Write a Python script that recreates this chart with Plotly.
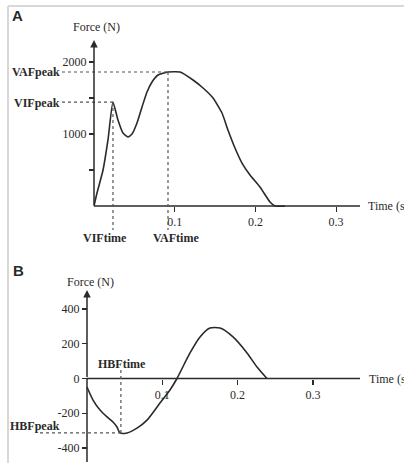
import plotly.graph_objects as go

# ---------------- data ----------------
A_TIME = [0, 0.0037, 0.0112, 0.0173, 0.0235, 0.0297, 0.0359, 0.0421, 0.0471,
          0.0533, 0.0595, 0.0657, 0.0719, 0.0793, 0.0917, 0.1066, 0.1227,
          0.1351, 0.1475, 0.1586, 0.1660, 0.1747, 0.1834, 0.1933, 0.2057,
          0.2181, 0.2243, 0.2367]
A_FORCE = [0, 180, 500, 917, 1444, 1194, 1014, 958, 1000,
           1153, 1375, 1583, 1722, 1819, 1861, 1861, 1750,
           1639, 1500, 1292, 1056, 806, 597, 431, 264,
           56, 0, 0]
A_XTICKS = [0.1, 0.2, 0.3]
A_YTICKS = [500, 1000, 1500, 2000]
A_YTICKTEXT = ["", "1000", "", "2000"]
VIF_TIME, VIF_PEAK = 0.0235, 1444
VAF_TIME, VAF_PEAK = 0.0917, 1861

B_TIME = [0, 0.008, 0.0173, 0.0266, 0.0345, 0.0398, 0.0438, 0.0531, 0.0664,
          0.0797, 0.0969, 0.1102, 0.1195, 0.1368, 0.1501, 0.1633, 0.1766,
          0.1939, 0.2125, 0.2258, 0.2390]
B_FORCE = [-49, -124, -181, -221, -250, -279, -313, -313, -285,
           -239, -141, -66, 0, 147, 239, 290, 290,
           239, 147, 66, 0]
B_XTICKS = [0.1, 0.2, 0.3]
B_YTICKS = [-400, -200, 0, 200, 400]
HBF_TIME, HBF_PEAK = 0.045, -313

# ---------------- geometry (pixels) ----------------
W, H = 404, 463
SPLIT = 250  # pixel row dividing panels
A_OX, A_OY, A_SX, A_SY = 94, 206, 807.0, 0.072   # px/s, px/N
B_OX, B_OY, B_SX, B_SY = 87, 378.5, 753.0, 1 / 5.75

def ax_range(ox, sx):
    return [(0 - ox) / sx, (W - ox) / sx]

def ay_range(oy, sy, ptop, pbot):
    return [(oy - pbot) / sy, (oy - ptop) / sy]

A_XR = ax_range(A_OX, A_SX)
A_YR = ay_range(A_OY, A_SY, 0, SPLIT)
B_XR = ax_range(B_OX, B_SX)
B_YR = ay_range(B_OY, B_SY, SPLIT, H)

def px_t(p, ox, sx):
    return (p - ox) / sx

def px_f(p, oy, sy):
    return (oy - p) / sy

INK = "#2a2a2a"
SERIF = "Liberation Serif"
tickfont = dict(family=SERIF, size=12, color=INK)

fig = go.Figure()
fig.add_trace(go.Scatter(x=A_TIME, y=A_FORCE, mode="lines", xaxis="x", yaxis="y",
                         line=dict(color=INK, width=1.6, shape="spline", smoothing=0.5),
                         showlegend=False, hoverinfo="skip"))
fig.add_trace(go.Scatter(x=B_TIME, y=B_FORCE, mode="lines", xaxis="x2", yaxis="y2",
                         line=dict(color=INK, width=1.6, shape="spline", smoothing=0.7),
                         showlegend=False, hoverinfo="skip"))

common = dict(showgrid=False, zeroline=False, showline=False, ticks="outside",
              ticklen=5, tickwidth=1.2, tickcolor=INK, tickfont=tickfont,
              fixedrange=True)

fig.update_layout(
    width=W, height=H, margin=dict(l=0, r=0, t=0, b=0),
    paper_bgcolor="white", plot_bgcolor="white",
    xaxis=dict(domain=[0, 1], range=A_XR, anchor="free",
               position=(H - A_OY) / H, tickvals=A_XTICKS,
               ticktext=[str(v) for v in A_XTICKS], **common),
    yaxis=dict(domain=[(H - SPLIT) / H, 1], range=A_YR, anchor="free",
               position=A_OX / W, tickvals=A_YTICKS, ticktext=A_YTICKTEXT, **common),
    xaxis2=dict(domain=[0, 1], range=B_XR, anchor="free",
                position=(H - B_OY) / H, tickvals=B_XTICKS,
                ticktext=[str(v) for v in B_XTICKS], **common),
    yaxis2=dict(domain=[0, (H - SPLIT) / H], range=B_YR, anchor="free",
                position=B_OX / W, tickvals=B_YTICKS,
                ticktext=[str(v) for v in B_YTICKS], **common),
)

shapes = []
def line(xref, yref, x0, y0, x1, y1, dash="solid", width=1.5, color=INK):
    shapes.append(dict(type="line", xref=xref, yref=yref, x0=x0, y0=y0, x1=x1, y1=y1,
                       line=dict(color=color, width=width, dash=dash)))

# axis lines
A_XEND = px_t(360, A_OX, A_SX)
A_YTOP = px_f(40, A_OY, A_SY)
B_XEND = px_t(360, B_OX, B_SX)
B_YTOP = px_f(290, B_OY, B_SY)
B_YBOT = px_f(462, B_OY, B_SY)
line("x", "y", 0, 0, A_XEND, 0)
line("x2", "y2", 0, 0, B_XEND, 0)
line("x2", "y2", 0, B_YBOT, 0, 0)

# dotted guides A
A_LBL_T = px_t(62, A_OX, A_SX)
A_LOW = px_f(230, A_OY, A_SY)
GUIDE = "#555"
line("x", "y", A_LBL_T, VAF_PEAK, VAF_TIME, VAF_PEAK, dash="dot", width=1.2, color=GUIDE)
line("x", "y", A_LBL_T, VIF_PEAK, VIF_TIME, VIF_PEAK, dash="dot", width=1.2, color=GUIDE)
line("x", "y", VIF_TIME, VIF_PEAK, VIF_TIME, A_LOW, dash="dot", width=1.2, color=GUIDE)
line("x", "y", VAF_TIME, VAF_PEAK, VAF_TIME, A_LOW, dash="dot", width=1.2, color=GUIDE)
# dotted guides B
B_LBL_T = px_t(40, B_OX, B_SX)
B_HI = px_f(370, B_OY, B_SY)
line("x2", "y2", B_LBL_T, HBF_PEAK, HBF_TIME, HBF_PEAK, dash="dot", width=1.2, color=GUIDE)
line("x2", "y2", HBF_TIME, HBF_PEAK, HBF_TIME, B_HI, dash="dot", width=1.2, color=GUIDE)

# light frame (top & left)
shapes.append(dict(type="line", xref="paper", yref="paper", x0=8 / W, x1=1,
                   y0=1 - 6 / H, y1=1 - 6 / H, line=dict(color="#d8d8d8", width=2)))
shapes.append(dict(type="line", xref="paper", yref="paper", x0=8 / W, x1=8 / W,
                   y0=0, y1=1 - 6 / H, line=dict(color="#d8d8d8", width=2)))
fig.update_layout(shapes=shapes)

ann = []
ann.append(dict(xref="x", yref="y", axref="x", ayref="y", x=0, y=A_YTOP, ax=0, ay=0,
                text="", showarrow=True, arrowhead=2, arrowsize=1, arrowwidth=1.5,
                arrowcolor=INK))
ann.append(dict(xref="x2", yref="y2", axref="x2", ayref="y2", x=0, y=B_YTOP, ax=0, ay=0,
                text="", showarrow=True, arrowhead=2, arrowsize=1, arrowwidth=1.5,
                arrowcolor=INK))

def text(xref, yref, x, y, s, size=12, bold=False, xanchor="center", family=SERIF):
    ann.append(dict(xref=xref, yref=yref, x=x, y=y, text=f"<b>{s}</b>" if bold else s,
                    showarrow=False, xanchor=xanchor, yanchor="middle",
                    font=dict(family=family, size=size, color=INK)))

text("paper", "paper", 17 / W, 1 - 16 / H, "A", size=15, bold=True, family="Liberation Sans")
text("paper", "paper", 18 / W, 1 - 270 / H, "B", size=15, bold=True, family="Liberation Sans")
text("x", "y", px_t(96, A_OX, A_SX), px_f(27, A_OY, A_SY), "Force (N)")
text("x2", "y2", px_t(90, B_OX, B_SX), px_f(282, B_OY, B_SY), "Force (N)")
text("x", "y", px_t(366, A_OX, A_SX), 0, "Time (s)", xanchor="left")
text("x2", "y2", px_t(367, B_OX, B_SX), 0, "Time (s)", xanchor="left")

text("x", "y", A_LBL_T, px_f(72, A_OY, A_SY), "VAFpeak", bold=True, xanchor="right")
text("x", "y", A_LBL_T, px_f(103, A_OY, A_SY), "VIFpeak", bold=True, xanchor="right")
text("x", "y", px_t(105, A_OX, A_SX), px_f(238, A_OY, A_SY), "VIFtime", bold=True)
text("x", "y", px_t(176, A_OX, A_SX), px_f(238, A_OY, A_SY), "VAFtime", bold=True)
text("x2", "y2", px_t(122, B_OX, B_SX), px_f(364, B_OY, B_SY), "HBFtime", bold=True)
text("x2", "y2", px_t(62, B_OX, B_SX), px_f(426, B_OY, B_SY), "HBFpeak", bold=True, xanchor="right")
fig.update_layout(annotations=ann)

fig.write_html("out.html", config={"displayModeBar": False, "staticPlot": True},
               post_script="document.body.style.margin='0';document.body.style.overflow='hidden';")
